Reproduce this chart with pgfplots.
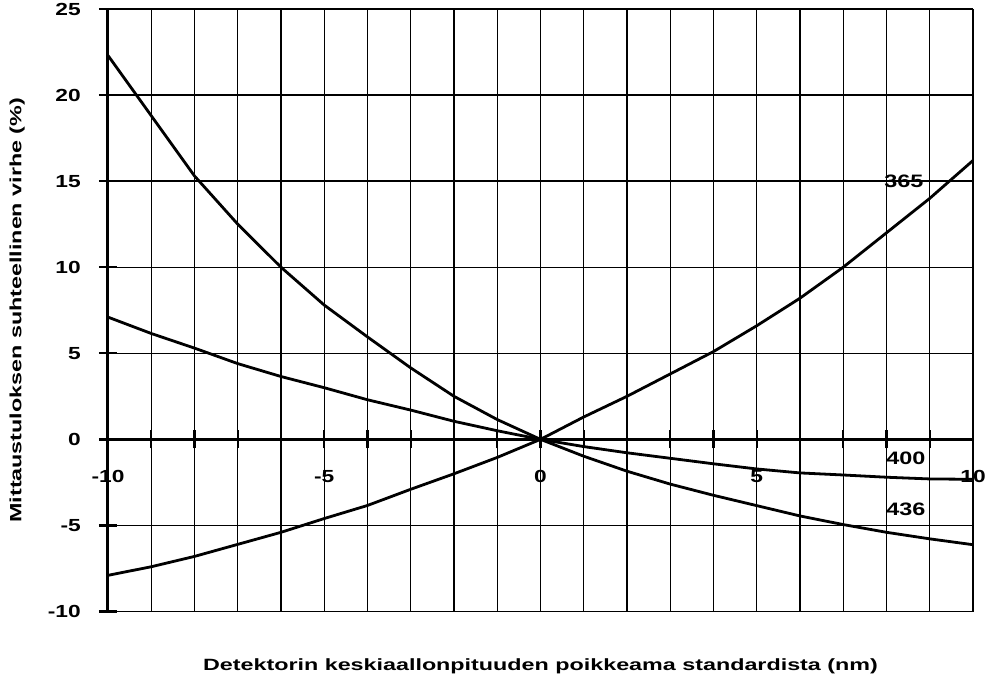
\documentclass[border=0pt]{standalone}
\usepackage{pgfplots}
\pgfplotsset{compat=1.18}
\usepackage{fontspec}
\setmainfont[FakeStretch=1.3]{Liberation Sans}
\newfontfamily\labelfont[FakeStretch=1.43]{Liberation Sans}

% relative error of the result vs. shift of the detector centre wavelength
\pgfplotstableread{
x     w365   w400   w436
-10   -7.9    7.1   22.3
-9    -7.4    6.15  18.8
-8    -6.8    5.3   15.3
-7    -6.1    4.4   12.5
-6    -5.4    3.65  10.0
-5    -4.6    3.0    7.8
-4    -3.84   2.3    5.95
-3    -2.9    1.7    4.15
-2    -2.0    1.05   2.5
-1    -1.05   0.5    1.15
0      0.0    0.0    0.0
1      1.3   -0.42  -0.98
2      2.5   -0.78  -1.85
3      3.8   -1.1   -2.6
4      5.1   -1.42  -3.25
5      6.6   -1.72  -3.85
6      8.2   -1.95  -4.45
7     10.0   -2.07  -4.95
8     12.0   -2.2   -5.4
9     14.0   -2.3   -5.78
10    16.2   -2.32  -6.12
}\errdata

\begin{document}
\begin{tikzpicture}
\useasboundingbox (-108pt,-70.5pt) rectangle (879pt,611.5pt);
\begin{axis}[
  at={(0pt,0pt)}, anchor=south west,
  scale only axis, width=865pt, height=602.5pt,
  xmin=-10, xmax=10, ymin=-10, ymax=25,
  axis x line=middle, axis y line=left,
  axis line style={-, line width=3pt, black},
  hide obscured x ticks=false, hide obscured y ticks=false,
  xtick={-10,...,10},
  xticklabels={-10,,,,,-5,,,,,0,,,,,5,,,,,10},
  ytick={-10,-5,...,25},
  grid=major,
  major grid style={black, line width=1.4pt},
  tick align=center, major tick length=18pt,
  every tick/.style={black, line width=2.4pt},
  /pgf/number format/assume math mode=true,
  ticklabel style={font=\fontsize{17.5}{20}\selectfont\bfseries, inner sep=0pt},
  xticklabel style={anchor=base, yshift=-34pt},
  yticklabel style={anchor=east, xshift=-18pt},
  xlabel={Detektorin keskiaallonpituuden poikkeama standardista (nm)},
  ylabel={Mittaustuloksen suhteellinen virhe (\%)},
  xlabel style={at={(axis description cs:0.5,0)}, anchor=center, yshift=-55pt,
                font=\labelfont\fontsize{16.3}{19}\selectfont\bfseries},
  ylabel style={at={(axis description cs:-0.105,0.5)}, anchor=center,
                font=\labelfont\fontsize{16.3}{19}\selectfont\bfseries},
  clip=false,
]
\addplot[black, line width=2.8pt] table[x=x, y=w365] {\errdata};
\addplot[black, line width=2.8pt] table[x=x, y=w400] {\errdata};
\addplot[black, line width=2.8pt] table[x=x, y=w436] {\errdata};
\node[font=\fontsize{18}{20}\selectfont\bfseries] at (axis cs:8.4,15) {365};
\node[font=\fontsize{18}{20}\selectfont\bfseries] at (axis cs:8.45,-1.1) {400};
\node[font=\fontsize{18}{20}\selectfont\bfseries] at (axis cs:8.45,-4.05) {436};
\end{axis}
\end{tikzpicture}
\end{document}
